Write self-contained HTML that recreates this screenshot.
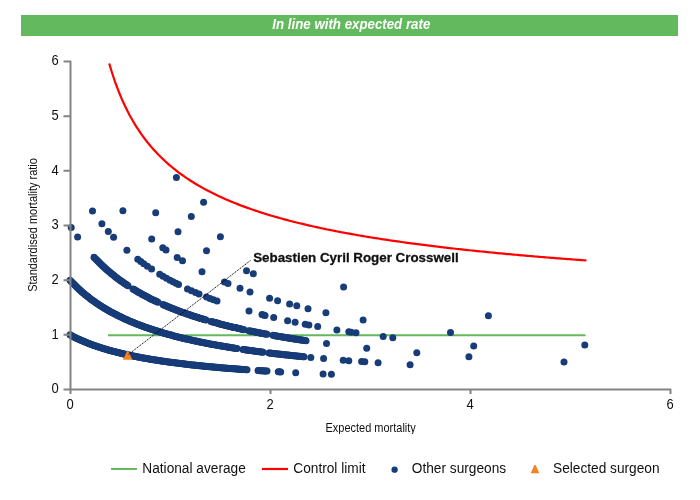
<!DOCTYPE html>
<html><head><meta charset="utf-8"><style>
html,body{margin:0;padding:0;background:#fff;}
body{width:700px;height:500px;position:relative;overflow:hidden;}
</style></head><body>

<svg width="700" height="500" viewBox="0 0 700 500" style="position:absolute;left:0;top:0;will-change:transform">
<rect x="21" y="15" width="657" height="21" fill="#63ba5e"/>
<text transform="translate(351.3,29) scale(1,1.06)" text-anchor="middle" font-family="Liberation Sans, Arial, sans-serif" font-size="13.3" font-weight="bold" font-style="italic" fill="#fff">In line with expected rate</text>
<line x1="108" y1="335.2" x2="585.5" y2="335.2" stroke="#62b85b" stroke-width="2"/>
<polyline points="109.50,64.34 111.50,71.02 113.50,77.23 115.50,83.02 117.50,88.44 119.50,93.52 121.50,98.30 123.50,102.80 125.50,107.06 127.50,111.09 129.50,114.92 131.50,118.55 133.50,122.01 135.50,125.31 137.50,128.46 139.50,131.48 141.50,134.36 143.50,137.13 145.50,139.78 147.50,142.33 149.50,144.78 151.50,147.14 153.50,149.42 155.50,151.61 157.50,153.73 159.50,155.78 161.50,157.76 163.50,159.67 165.50,161.52 167.50,163.32 169.50,165.06 171.50,166.75 173.50,168.39 175.50,169.98 177.50,171.53 179.50,173.04 181.50,174.50 183.50,175.93 185.50,177.31 187.50,178.67 189.50,179.98 191.50,181.27 193.50,182.52 195.50,183.75 197.50,184.94 199.50,186.11 201.50,187.25 203.50,188.36 205.50,189.45 207.50,190.51 209.50,191.56 211.50,192.58 213.50,193.57 215.50,194.55 217.50,195.51 219.50,196.45 221.50,197.37 223.50,198.27 225.50,199.15 227.50,200.02 229.50,200.87 231.50,201.70 233.50,202.52 235.50,203.33 237.50,204.12 239.50,204.89 241.50,205.66 243.50,206.40 245.50,207.14 247.50,207.86 249.50,208.58 251.50,209.27 253.50,209.96 255.50,210.64 257.50,211.31 259.50,211.96 261.50,212.61 263.50,213.24 265.50,213.87 267.50,214.48 269.50,215.09 271.50,215.69 273.50,216.27 275.50,216.85 277.50,217.42 279.50,217.99 281.50,218.54 283.50,219.09 285.50,219.63 287.50,220.16 289.50,220.69 291.50,221.20 293.50,221.72 295.50,222.22 297.50,222.72 299.50,223.21 301.50,223.69 303.50,224.17 305.50,224.64 307.50,225.11 309.50,225.57 311.50,226.02 313.50,226.47 315.50,226.91 317.50,227.35 319.50,227.78 321.50,228.21 323.50,228.63 325.50,229.05 327.50,229.46 329.50,229.87 331.50,230.27 333.50,230.67 335.50,231.07 337.50,231.46 339.50,231.84 341.50,232.22 343.50,232.60 345.50,232.97 347.50,233.34 349.50,233.70 351.50,234.06 353.50,234.42 355.50,234.77 357.50,235.12 359.50,235.47 361.50,235.81 363.50,236.15 365.50,236.48 367.50,236.82 369.50,237.14 371.50,237.47 373.50,237.79 375.50,238.11 377.50,238.42 379.50,238.74 381.50,239.05 383.50,239.35 385.50,239.66 387.50,239.96 389.50,240.26 391.50,240.55 393.50,240.84 395.50,241.13 397.50,241.42 399.50,241.70 401.50,241.99 403.50,242.26 405.50,242.54 407.50,242.82 409.50,243.09 411.50,243.36 413.50,243.62 415.50,243.89 417.50,244.15 419.50,244.41 421.50,244.67 423.50,244.93 425.50,245.18 427.50,245.43 429.50,245.68 431.50,245.93 433.50,246.17 435.50,246.42 437.50,246.66 439.50,246.90 441.50,247.13 443.50,247.37 445.50,247.60 447.50,247.83 449.50,248.06 451.50,248.29 453.50,248.52 455.50,248.74 457.50,248.97 459.50,249.19 461.50,249.41 463.50,249.62 465.50,249.84 467.50,250.05 469.50,250.27 471.50,250.48 473.50,250.69 475.50,250.90 477.50,251.10 479.50,251.31 481.50,251.51 483.50,251.71 485.50,251.91 487.50,252.11 489.50,252.31 491.50,252.51 493.50,252.70 495.50,252.89 497.50,253.09 499.50,253.28 501.50,253.47 503.50,253.65 505.50,253.84 507.50,254.03 509.50,254.21 511.50,254.39 513.50,254.58 515.50,254.76 517.50,254.94 519.50,255.11 521.50,255.29 523.50,255.47 525.50,255.64 527.50,255.82 529.50,255.99 531.50,256.16 533.50,256.33 535.50,256.50 537.50,256.67 539.50,256.83 541.50,257.00 543.50,257.16 545.50,257.33 547.50,257.49 549.50,257.65 551.50,257.81 553.50,257.97 555.50,258.13 557.50,258.29 559.50,258.44 561.50,258.60 563.50,258.75 565.50,258.91 567.50,259.06 569.50,259.21 571.50,259.36 573.50,259.51 575.50,259.66 577.50,259.81 579.50,259.96 581.50,260.11 583.50,260.25 585.50,260.40 584.50,260.33" fill="none" stroke="#ff0000" stroke-width="2.2" stroke-linecap="round" stroke-linejoin="round"/>
<g fill="#173c78">
<circle cx="70.00" cy="334.83" r="3.5"/>
<circle cx="71.00" cy="335.37" r="3.5"/>
<circle cx="72.00" cy="335.90" r="3.5"/>
<circle cx="73.00" cy="336.43" r="3.5"/>
<circle cx="74.00" cy="336.94" r="3.5"/>
<circle cx="75.00" cy="337.44" r="3.5"/>
<circle cx="76.00" cy="337.93" r="3.5"/>
<circle cx="77.00" cy="338.41" r="3.5"/>
<circle cx="78.00" cy="338.88" r="3.5"/>
<circle cx="79.00" cy="339.35" r="3.5"/>
<circle cx="80.00" cy="339.80" r="3.5"/>
<circle cx="81.00" cy="340.25" r="3.5"/>
<circle cx="82.00" cy="340.69" r="3.5"/>
<circle cx="83.00" cy="341.12" r="3.5"/>
<circle cx="84.00" cy="341.55" r="3.5"/>
<circle cx="85.00" cy="341.96" r="3.5"/>
<circle cx="86.00" cy="342.37" r="3.5"/>
<circle cx="87.00" cy="342.78" r="3.5"/>
<circle cx="88.00" cy="343.17" r="3.5"/>
<circle cx="89.00" cy="343.56" r="3.5"/>
<circle cx="90.00" cy="343.94" r="3.5"/>
<circle cx="91.00" cy="344.32" r="3.5"/>
<circle cx="92.00" cy="344.69" r="3.5"/>
<circle cx="93.00" cy="345.06" r="3.5"/>
<circle cx="94.00" cy="345.41" r="3.5"/>
<circle cx="95.00" cy="345.77" r="3.5"/>
<circle cx="96.00" cy="346.11" r="3.5"/>
<circle cx="97.00" cy="346.46" r="3.5"/>
<circle cx="98.00" cy="346.79" r="3.5"/>
<circle cx="99.00" cy="347.12" r="3.5"/>
<circle cx="100.00" cy="347.45" r="3.5"/>
<circle cx="101.00" cy="347.77" r="3.5"/>
<circle cx="102.00" cy="348.09" r="3.5"/>
<circle cx="103.00" cy="348.40" r="3.5"/>
<circle cx="104.00" cy="348.70" r="3.5"/>
<circle cx="105.00" cy="349.01" r="3.5"/>
<circle cx="106.00" cy="349.30" r="3.5"/>
<circle cx="107.00" cy="349.60" r="3.5"/>
<circle cx="108.00" cy="349.89" r="3.5"/>
<circle cx="109.00" cy="350.17" r="3.5"/>
<circle cx="110.00" cy="350.45" r="3.5"/>
<circle cx="111.00" cy="350.73" r="3.5"/>
<circle cx="112.00" cy="351.00" r="3.5"/>
<circle cx="113.00" cy="351.27" r="3.5"/>
<circle cx="114.00" cy="351.54" r="3.5"/>
<circle cx="115.00" cy="351.80" r="3.5"/>
<circle cx="116.00" cy="352.06" r="3.5"/>
<circle cx="117.00" cy="352.31" r="3.5"/>
<circle cx="118.00" cy="352.56" r="3.5"/>
<circle cx="119.00" cy="352.81" r="3.5"/>
<circle cx="120.00" cy="353.06" r="3.5"/>
<circle cx="121.00" cy="353.30" r="3.5"/>
<circle cx="122.00" cy="353.53" r="3.5"/>
<circle cx="123.00" cy="353.77" r="3.5"/>
<circle cx="124.00" cy="354.00" r="3.5"/>
<circle cx="125.00" cy="354.23" r="3.5"/>
<circle cx="126.00" cy="354.46" r="3.5"/>
<circle cx="127.00" cy="354.68" r="3.5"/>
<circle cx="128.00" cy="354.90" r="3.5"/>
<circle cx="129.00" cy="355.12" r="3.5"/>
<circle cx="130.00" cy="355.33" r="3.5"/>
<circle cx="131.00" cy="355.55" r="3.5"/>
<circle cx="132.00" cy="355.75" r="3.5"/>
<circle cx="133.00" cy="355.96" r="3.5"/>
<circle cx="134.00" cy="356.17" r="3.5"/>
<circle cx="135.00" cy="356.37" r="3.5"/>
<circle cx="136.00" cy="356.57" r="3.5"/>
<circle cx="137.00" cy="356.77" r="3.5"/>
<circle cx="138.00" cy="356.96" r="3.5"/>
<circle cx="139.00" cy="357.15" r="3.5"/>
<circle cx="140.00" cy="357.34" r="3.5"/>
<circle cx="141.00" cy="357.53" r="3.5"/>
<circle cx="142.00" cy="357.72" r="3.5"/>
<circle cx="143.00" cy="357.90" r="3.5"/>
<circle cx="144.00" cy="358.08" r="3.5"/>
<circle cx="145.00" cy="358.26" r="3.5"/>
<circle cx="146.00" cy="358.44" r="3.5"/>
<circle cx="147.00" cy="358.61" r="3.5"/>
<circle cx="148.00" cy="358.79" r="3.5"/>
<circle cx="149.00" cy="358.96" r="3.5"/>
<circle cx="150.00" cy="359.13" r="3.5"/>
<circle cx="151.00" cy="359.30" r="3.5"/>
<circle cx="152.00" cy="359.46" r="3.5"/>
<circle cx="153.00" cy="359.63" r="3.5"/>
<circle cx="154.00" cy="359.79" r="3.5"/>
<circle cx="155.00" cy="359.95" r="3.5"/>
<circle cx="156.00" cy="360.11" r="3.5"/>
<circle cx="157.00" cy="360.27" r="3.5"/>
<circle cx="158.00" cy="360.42" r="3.5"/>
<circle cx="159.00" cy="360.58" r="3.5"/>
<circle cx="160.00" cy="360.73" r="3.5"/>
<circle cx="161.00" cy="360.88" r="3.5"/>
<circle cx="162.00" cy="361.03" r="3.5"/>
<circle cx="163.00" cy="361.18" r="3.5"/>
<circle cx="164.00" cy="361.32" r="3.5"/>
<circle cx="165.00" cy="361.47" r="3.5"/>
<circle cx="166.00" cy="361.61" r="3.5"/>
<circle cx="167.00" cy="361.75" r="3.5"/>
<circle cx="168.00" cy="361.89" r="3.5"/>
<circle cx="169.00" cy="362.03" r="3.5"/>
<circle cx="170.00" cy="362.17" r="3.5"/>
<circle cx="171.00" cy="362.30" r="3.5"/>
<circle cx="172.00" cy="362.44" r="3.5"/>
<circle cx="173.00" cy="362.57" r="3.5"/>
<circle cx="174.00" cy="362.70" r="3.5"/>
<circle cx="175.00" cy="362.83" r="3.5"/>
<circle cx="176.00" cy="362.96" r="3.5"/>
<circle cx="177.00" cy="363.09" r="3.5"/>
<circle cx="178.00" cy="363.22" r="3.5"/>
<circle cx="179.00" cy="363.34" r="3.5"/>
<circle cx="180.00" cy="363.47" r="3.5"/>
<circle cx="181.00" cy="363.59" r="3.5"/>
<circle cx="182.00" cy="363.71" r="3.5"/>
<circle cx="183.00" cy="363.83" r="3.5"/>
<circle cx="184.00" cy="363.95" r="3.5"/>
<circle cx="185.00" cy="364.07" r="3.5"/>
<circle cx="186.00" cy="364.19" r="3.5"/>
<circle cx="187.00" cy="364.31" r="3.5"/>
<circle cx="188.00" cy="364.42" r="3.5"/>
<circle cx="189.00" cy="364.54" r="3.5"/>
<circle cx="190.00" cy="364.65" r="3.5"/>
<circle cx="191.00" cy="364.76" r="3.5"/>
<circle cx="192.00" cy="364.88" r="3.5"/>
<circle cx="193.00" cy="364.99" r="3.5"/>
<circle cx="194.00" cy="365.10" r="3.5"/>
<circle cx="195.00" cy="365.20" r="3.5"/>
<circle cx="196.00" cy="365.31" r="3.5"/>
<circle cx="197.00" cy="365.42" r="3.5"/>
<circle cx="198.00" cy="365.52" r="3.5"/>
<circle cx="199.00" cy="365.63" r="3.5"/>
<circle cx="200.00" cy="365.73" r="3.5"/>
<circle cx="201.00" cy="365.83" r="3.5"/>
<circle cx="202.00" cy="365.94" r="3.5"/>
<circle cx="203.00" cy="366.04" r="3.5"/>
<circle cx="204.00" cy="366.14" r="3.5"/>
<circle cx="205.00" cy="366.24" r="3.5"/>
<circle cx="206.00" cy="366.34" r="3.5"/>
<circle cx="207.00" cy="366.43" r="3.5"/>
<circle cx="208.00" cy="366.53" r="3.5"/>
<circle cx="209.00" cy="366.63" r="3.5"/>
<circle cx="210.00" cy="366.72" r="3.5"/>
<circle cx="211.00" cy="366.82" r="3.5"/>
<circle cx="212.00" cy="366.91" r="3.5"/>
<circle cx="213.00" cy="367.00" r="3.5"/>
<circle cx="214.00" cy="367.10" r="3.5"/>
<circle cx="215.00" cy="367.19" r="3.5"/>
<circle cx="216.00" cy="367.28" r="3.5"/>
<circle cx="217.00" cy="367.37" r="3.5"/>
<circle cx="218.00" cy="367.46" r="3.5"/>
<circle cx="219.00" cy="367.55" r="3.5"/>
<circle cx="220.00" cy="367.63" r="3.5"/>
<circle cx="221.00" cy="367.72" r="3.5"/>
<circle cx="222.00" cy="367.81" r="3.5"/>
<circle cx="223.00" cy="367.89" r="3.5"/>
<circle cx="224.00" cy="367.98" r="3.5"/>
<circle cx="225.00" cy="368.06" r="3.5"/>
<circle cx="226.00" cy="368.15" r="3.5"/>
<circle cx="227.00" cy="368.23" r="3.5"/>
<circle cx="228.00" cy="368.31" r="3.5"/>
<circle cx="229.00" cy="368.39" r="3.5"/>
<circle cx="230.00" cy="368.47" r="3.5"/>
<circle cx="231.00" cy="368.55" r="3.5"/>
<circle cx="232.00" cy="368.63" r="3.5"/>
<circle cx="233.00" cy="368.71" r="3.5"/>
<circle cx="234.00" cy="368.79" r="3.5"/>
<circle cx="235.00" cy="368.87" r="3.5"/>
<circle cx="236.00" cy="368.95" r="3.5"/>
<circle cx="237.00" cy="369.03" r="3.5"/>
<circle cx="238.00" cy="369.10" r="3.5"/>
<circle cx="239.00" cy="369.18" r="3.5"/>
<circle cx="240.00" cy="369.25" r="3.5"/>
<circle cx="241.00" cy="369.33" r="3.5"/>
<circle cx="242.00" cy="369.40" r="3.5"/>
<circle cx="243.00" cy="369.48" r="3.5"/>
<circle cx="244.00" cy="369.55" r="3.5"/>
<circle cx="245.00" cy="369.62" r="3.5"/>
<circle cx="246.00" cy="369.69" r="3.5"/>
<circle cx="247.00" cy="369.76" r="3.5"/>
<circle cx="258.00" cy="370.52" r="3.5"/>
<circle cx="259.00" cy="370.58" r="3.5"/>
<circle cx="260.00" cy="370.65" r="3.5"/>
<circle cx="261.00" cy="370.71" r="3.5"/>
<circle cx="262.00" cy="370.78" r="3.5"/>
<circle cx="263.00" cy="370.84" r="3.5"/>
<circle cx="264.00" cy="370.91" r="3.5"/>
<circle cx="265.00" cy="370.97" r="3.5"/>
<circle cx="266.00" cy="371.03" r="3.5"/>
<circle cx="267.00" cy="371.09" r="3.5"/>
<circle cx="278.30" cy="371.77" r="3.5"/>
<circle cx="279.50" cy="371.84" r="3.5"/>
<circle cx="280.70" cy="371.91" r="3.5"/>
<circle cx="295.70" cy="372.72" r="3.5"/>
<circle cx="323.10" cy="374.02" r="3.5"/>
<circle cx="331.40" cy="374.37" r="3.5"/>
<circle cx="70.00" cy="280.17" r="3.5"/>
<circle cx="71.00" cy="281.25" r="3.5"/>
<circle cx="72.00" cy="282.31" r="3.5"/>
<circle cx="73.00" cy="283.35" r="3.5"/>
<circle cx="74.00" cy="284.37" r="3.5"/>
<circle cx="75.00" cy="285.37" r="3.5"/>
<circle cx="76.00" cy="286.35" r="3.5"/>
<circle cx="77.00" cy="287.32" r="3.5"/>
<circle cx="78.00" cy="288.26" r="3.5"/>
<circle cx="79.00" cy="289.19" r="3.5"/>
<circle cx="80.00" cy="290.11" r="3.5"/>
<circle cx="81.00" cy="291.00" r="3.5"/>
<circle cx="82.00" cy="291.88" r="3.5"/>
<circle cx="83.00" cy="292.74" r="3.5"/>
<circle cx="84.00" cy="293.59" r="3.5"/>
<circle cx="85.00" cy="294.43" r="3.5"/>
<circle cx="86.00" cy="295.25" r="3.5"/>
<circle cx="87.00" cy="296.05" r="3.5"/>
<circle cx="88.00" cy="296.84" r="3.5"/>
<circle cx="89.00" cy="297.62" r="3.5"/>
<circle cx="90.00" cy="298.39" r="3.5"/>
<circle cx="91.00" cy="299.14" r="3.5"/>
<circle cx="92.00" cy="299.88" r="3.5"/>
<circle cx="93.00" cy="300.61" r="3.5"/>
<circle cx="94.00" cy="301.33" r="3.5"/>
<circle cx="95.00" cy="302.03" r="3.5"/>
<circle cx="96.00" cy="302.73" r="3.5"/>
<circle cx="97.00" cy="303.41" r="3.5"/>
<circle cx="98.00" cy="304.08" r="3.5"/>
<circle cx="99.00" cy="304.74" r="3.5"/>
<circle cx="100.00" cy="305.40" r="3.5"/>
<circle cx="101.00" cy="306.04" r="3.5"/>
<circle cx="102.00" cy="306.67" r="3.5"/>
<circle cx="103.00" cy="307.29" r="3.5"/>
<circle cx="104.00" cy="307.91" r="3.5"/>
<circle cx="105.00" cy="308.51" r="3.5"/>
<circle cx="106.00" cy="309.11" r="3.5"/>
<circle cx="107.00" cy="309.69" r="3.5"/>
<circle cx="108.00" cy="310.27" r="3.5"/>
<circle cx="109.00" cy="310.84" r="3.5"/>
<circle cx="110.00" cy="311.40" r="3.5"/>
<circle cx="111.00" cy="311.96" r="3.5"/>
<circle cx="112.00" cy="312.50" r="3.5"/>
<circle cx="113.00" cy="313.04" r="3.5"/>
<circle cx="114.00" cy="313.57" r="3.5"/>
<circle cx="115.00" cy="314.10" r="3.5"/>
<circle cx="116.00" cy="314.61" r="3.5"/>
<circle cx="117.00" cy="315.12" r="3.5"/>
<circle cx="118.00" cy="315.63" r="3.5"/>
<circle cx="119.00" cy="316.12" r="3.5"/>
<circle cx="120.00" cy="316.61" r="3.5"/>
<circle cx="121.00" cy="317.09" r="3.5"/>
<circle cx="122.00" cy="317.57" r="3.5"/>
<circle cx="123.00" cy="318.04" r="3.5"/>
<circle cx="124.00" cy="318.50" r="3.5"/>
<circle cx="125.00" cy="318.96" r="3.5"/>
<circle cx="126.00" cy="319.41" r="3.5"/>
<circle cx="127.00" cy="319.86" r="3.5"/>
<circle cx="128.00" cy="320.30" r="3.5"/>
<circle cx="129.00" cy="320.74" r="3.5"/>
<circle cx="130.00" cy="321.17" r="3.5"/>
<circle cx="131.00" cy="321.59" r="3.5"/>
<circle cx="132.00" cy="322.01" r="3.5"/>
<circle cx="133.00" cy="322.42" r="3.5"/>
<circle cx="134.00" cy="322.83" r="3.5"/>
<circle cx="135.00" cy="323.24" r="3.5"/>
<circle cx="136.00" cy="323.64" r="3.5"/>
<circle cx="137.00" cy="324.03" r="3.5"/>
<circle cx="138.00" cy="324.42" r="3.5"/>
<circle cx="139.00" cy="324.81" r="3.5"/>
<circle cx="140.00" cy="325.19" r="3.5"/>
<circle cx="141.00" cy="325.56" r="3.5"/>
<circle cx="142.00" cy="325.93" r="3.5"/>
<circle cx="143.00" cy="326.30" r="3.5"/>
<circle cx="144.00" cy="326.66" r="3.5"/>
<circle cx="145.00" cy="327.02" r="3.5"/>
<circle cx="146.00" cy="327.38" r="3.5"/>
<circle cx="147.00" cy="327.73" r="3.5"/>
<circle cx="148.00" cy="328.08" r="3.5"/>
<circle cx="149.00" cy="328.42" r="3.5"/>
<circle cx="150.00" cy="328.76" r="3.5"/>
<circle cx="151.00" cy="329.09" r="3.5"/>
<circle cx="152.00" cy="329.43" r="3.5"/>
<circle cx="153.00" cy="329.75" r="3.5"/>
<circle cx="154.00" cy="330.08" r="3.5"/>
<circle cx="155.00" cy="330.40" r="3.5"/>
<circle cx="156.00" cy="330.72" r="3.5"/>
<circle cx="157.00" cy="331.03" r="3.5"/>
<circle cx="158.00" cy="331.34" r="3.5"/>
<circle cx="159.00" cy="331.65" r="3.5"/>
<circle cx="160.00" cy="331.96" r="3.5"/>
<circle cx="161.00" cy="332.26" r="3.5"/>
<circle cx="162.00" cy="332.56" r="3.5"/>
<circle cx="163.00" cy="332.85" r="3.5"/>
<circle cx="164.00" cy="333.14" r="3.5"/>
<circle cx="165.00" cy="333.43" r="3.5"/>
<circle cx="166.00" cy="333.72" r="3.5"/>
<circle cx="167.00" cy="334.00" r="3.5"/>
<circle cx="168.00" cy="334.28" r="3.5"/>
<circle cx="169.00" cy="334.56" r="3.5"/>
<circle cx="170.00" cy="334.83" r="3.5"/>
<circle cx="171.00" cy="335.10" r="3.5"/>
<circle cx="172.00" cy="335.37" r="3.5"/>
<circle cx="173.00" cy="335.64" r="3.5"/>
<circle cx="174.00" cy="335.90" r="3.5"/>
<circle cx="175.00" cy="336.17" r="3.5"/>
<circle cx="176.00" cy="336.43" r="3.5"/>
<circle cx="177.00" cy="336.68" r="3.5"/>
<circle cx="178.00" cy="336.94" r="3.5"/>
<circle cx="179.00" cy="337.19" r="3.5"/>
<circle cx="180.00" cy="337.44" r="3.5"/>
<circle cx="181.00" cy="337.68" r="3.5"/>
<circle cx="182.00" cy="337.93" r="3.5"/>
<circle cx="183.00" cy="338.17" r="3.5"/>
<circle cx="184.00" cy="338.41" r="3.5"/>
<circle cx="185.00" cy="338.65" r="3.5"/>
<circle cx="186.00" cy="338.88" r="3.5"/>
<circle cx="187.00" cy="339.12" r="3.5"/>
<circle cx="188.00" cy="339.35" r="3.5"/>
<circle cx="189.00" cy="339.58" r="3.5"/>
<circle cx="190.00" cy="339.80" r="3.5"/>
<circle cx="191.00" cy="340.03" r="3.5"/>
<circle cx="192.00" cy="340.25" r="3.5"/>
<circle cx="193.00" cy="340.47" r="3.5"/>
<circle cx="194.00" cy="340.69" r="3.5"/>
<circle cx="195.00" cy="340.91" r="3.5"/>
<circle cx="196.00" cy="341.12" r="3.5"/>
<circle cx="197.00" cy="341.34" r="3.5"/>
<circle cx="198.00" cy="341.55" r="3.5"/>
<circle cx="199.00" cy="341.76" r="3.5"/>
<circle cx="200.00" cy="341.96" r="3.5"/>
<circle cx="201.00" cy="342.17" r="3.5"/>
<circle cx="202.00" cy="342.37" r="3.5"/>
<circle cx="203.00" cy="342.58" r="3.5"/>
<circle cx="204.00" cy="342.78" r="3.5"/>
<circle cx="205.00" cy="342.97" r="3.5"/>
<circle cx="206.00" cy="343.17" r="3.5"/>
<circle cx="207.00" cy="343.37" r="3.5"/>
<circle cx="208.00" cy="343.56" r="3.5"/>
<circle cx="209.00" cy="343.75" r="3.5"/>
<circle cx="210.00" cy="343.94" r="3.5"/>
<circle cx="211.00" cy="344.13" r="3.5"/>
<circle cx="212.00" cy="344.32" r="3.5"/>
<circle cx="213.00" cy="344.51" r="3.5"/>
<circle cx="214.00" cy="344.69" r="3.5"/>
<circle cx="215.00" cy="344.87" r="3.5"/>
<circle cx="216.00" cy="345.06" r="3.5"/>
<circle cx="217.00" cy="345.24" r="3.5"/>
<circle cx="218.00" cy="345.41" r="3.5"/>
<circle cx="219.00" cy="345.59" r="3.5"/>
<circle cx="220.00" cy="345.77" r="3.5"/>
<circle cx="221.00" cy="345.94" r="3.5"/>
<circle cx="222.00" cy="346.11" r="3.5"/>
<circle cx="223.00" cy="346.28" r="3.5"/>
<circle cx="224.00" cy="346.46" r="3.5"/>
<circle cx="225.00" cy="346.62" r="3.5"/>
<circle cx="226.00" cy="346.79" r="3.5"/>
<circle cx="227.00" cy="346.96" r="3.5"/>
<circle cx="228.00" cy="347.12" r="3.5"/>
<circle cx="229.00" cy="347.29" r="3.5"/>
<circle cx="230.00" cy="347.45" r="3.5"/>
<circle cx="231.00" cy="347.61" r="3.5"/>
<circle cx="232.00" cy="347.77" r="3.5"/>
<circle cx="233.00" cy="347.93" r="3.5"/>
<circle cx="234.00" cy="348.09" r="3.5"/>
<circle cx="235.00" cy="348.24" r="3.5"/>
<circle cx="236.00" cy="348.40" r="3.5"/>
<circle cx="237.00" cy="348.55" r="3.5"/>
<circle cx="243.00" cy="349.45" r="3.5"/>
<circle cx="244.00" cy="349.60" r="3.5"/>
<circle cx="245.00" cy="349.74" r="3.5"/>
<circle cx="246.00" cy="349.89" r="3.5"/>
<circle cx="247.00" cy="350.03" r="3.5"/>
<circle cx="248.00" cy="350.17" r="3.5"/>
<circle cx="249.00" cy="350.31" r="3.5"/>
<circle cx="250.00" cy="350.45" r="3.5"/>
<circle cx="251.00" cy="350.59" r="3.5"/>
<circle cx="252.00" cy="350.73" r="3.5"/>
<circle cx="253.00" cy="350.87" r="3.5"/>
<circle cx="254.00" cy="351.00" r="3.5"/>
<circle cx="255.00" cy="351.14" r="3.5"/>
<circle cx="256.00" cy="351.27" r="3.5"/>
<circle cx="257.00" cy="351.40" r="3.5"/>
<circle cx="258.00" cy="351.54" r="3.5"/>
<circle cx="259.00" cy="351.67" r="3.5"/>
<circle cx="260.00" cy="351.80" r="3.5"/>
<circle cx="261.00" cy="351.93" r="3.5"/>
<circle cx="262.00" cy="352.06" r="3.5"/>
<circle cx="263.00" cy="352.18" r="3.5"/>
<circle cx="269.00" cy="352.93" r="3.5"/>
<circle cx="270.00" cy="353.06" r="3.5"/>
<circle cx="271.00" cy="353.18" r="3.5"/>
<circle cx="272.00" cy="353.30" r="3.5"/>
<circle cx="273.00" cy="353.42" r="3.5"/>
<circle cx="274.00" cy="353.53" r="3.5"/>
<circle cx="275.00" cy="353.65" r="3.5"/>
<circle cx="276.00" cy="353.77" r="3.5"/>
<circle cx="277.00" cy="353.89" r="3.5"/>
<circle cx="278.00" cy="354.00" r="3.5"/>
<circle cx="279.00" cy="354.12" r="3.5"/>
<circle cx="280.00" cy="354.23" r="3.5"/>
<circle cx="281.00" cy="354.34" r="3.5"/>
<circle cx="282.00" cy="354.46" r="3.5"/>
<circle cx="283.00" cy="354.57" r="3.5"/>
<circle cx="284.00" cy="354.68" r="3.5"/>
<circle cx="285.00" cy="354.79" r="3.5"/>
<circle cx="286.00" cy="354.90" r="3.5"/>
<circle cx="287.00" cy="355.01" r="3.5"/>
<circle cx="288.00" cy="355.12" r="3.5"/>
<circle cx="289.00" cy="355.23" r="3.5"/>
<circle cx="290.00" cy="355.33" r="3.5"/>
<circle cx="291.00" cy="355.44" r="3.5"/>
<circle cx="292.00" cy="355.55" r="3.5"/>
<circle cx="293.00" cy="355.65" r="3.5"/>
<circle cx="294.00" cy="355.75" r="3.5"/>
<circle cx="295.00" cy="355.86" r="3.5"/>
<circle cx="296.00" cy="355.96" r="3.5"/>
<circle cx="297.00" cy="356.06" r="3.5"/>
<circle cx="298.00" cy="356.17" r="3.5"/>
<circle cx="299.00" cy="356.27" r="3.5"/>
<circle cx="300.00" cy="356.37" r="3.5"/>
<circle cx="301.00" cy="356.47" r="3.5"/>
<circle cx="302.00" cy="356.57" r="3.5"/>
<circle cx="303.00" cy="356.67" r="3.5"/>
<circle cx="304.00" cy="356.77" r="3.5"/>
<circle cx="310.80" cy="357.42" r="3.5"/>
<circle cx="323.60" cy="358.58" r="3.5"/>
<circle cx="343.20" cy="360.20" r="3.5"/>
<circle cx="348.80" cy="360.64" r="3.5"/>
<circle cx="361.60" cy="361.58" r="3.5"/>
<circle cx="364.80" cy="361.81" r="3.5"/>
<circle cx="378.10" cy="362.71" r="3.5"/>
<circle cx="410.10" cy="364.66" r="3.5"/>
<circle cx="71.20" cy="227.44" r="3.5"/>
<circle cx="77.60" cy="237.08" r="3.5"/>
<circle cx="94.00" cy="257.24" r="3.5"/>
<circle cx="95.00" cy="258.30" r="3.5"/>
<circle cx="96.00" cy="259.34" r="3.5"/>
<circle cx="97.00" cy="260.37" r="3.5"/>
<circle cx="98.00" cy="261.37" r="3.5"/>
<circle cx="99.00" cy="262.37" r="3.5"/>
<circle cx="100.00" cy="263.35" r="3.5"/>
<circle cx="101.00" cy="264.31" r="3.5"/>
<circle cx="102.00" cy="265.26" r="3.5"/>
<circle cx="103.00" cy="266.19" r="3.5"/>
<circle cx="104.00" cy="267.11" r="3.5"/>
<circle cx="105.00" cy="268.02" r="3.5"/>
<circle cx="106.00" cy="268.91" r="3.5"/>
<circle cx="107.00" cy="269.79" r="3.5"/>
<circle cx="108.00" cy="270.66" r="3.5"/>
<circle cx="109.00" cy="271.51" r="3.5"/>
<circle cx="110.00" cy="272.36" r="3.5"/>
<circle cx="111.00" cy="273.19" r="3.5"/>
<circle cx="112.00" cy="274.01" r="3.5"/>
<circle cx="113.00" cy="274.81" r="3.5"/>
<circle cx="114.00" cy="275.61" r="3.5"/>
<circle cx="115.00" cy="276.40" r="3.5"/>
<circle cx="116.00" cy="277.17" r="3.5"/>
<circle cx="117.00" cy="277.93" r="3.5"/>
<circle cx="118.00" cy="278.69" r="3.5"/>
<circle cx="119.00" cy="279.43" r="3.5"/>
<circle cx="120.00" cy="280.17" r="3.5"/>
<circle cx="121.00" cy="280.89" r="3.5"/>
<circle cx="122.00" cy="281.60" r="3.5"/>
<circle cx="123.00" cy="282.31" r="3.5"/>
<circle cx="124.00" cy="283.01" r="3.5"/>
<circle cx="125.00" cy="283.69" r="3.5"/>
<circle cx="126.00" cy="284.37" r="3.5"/>
<circle cx="127.00" cy="285.04" r="3.5"/>
<circle cx="128.00" cy="285.70" r="3.5"/>
<circle cx="133.00" cy="288.89" r="3.5"/>
<circle cx="134.00" cy="289.50" r="3.5"/>
<circle cx="135.00" cy="290.11" r="3.5"/>
<circle cx="136.00" cy="290.70" r="3.5"/>
<circle cx="137.00" cy="291.30" r="3.5"/>
<circle cx="138.00" cy="291.88" r="3.5"/>
<circle cx="139.00" cy="292.46" r="3.5"/>
<circle cx="140.00" cy="293.03" r="3.5"/>
<circle cx="141.00" cy="293.59" r="3.5"/>
<circle cx="142.00" cy="294.15" r="3.5"/>
<circle cx="143.00" cy="294.70" r="3.5"/>
<circle cx="144.00" cy="295.25" r="3.5"/>
<circle cx="145.00" cy="295.79" r="3.5"/>
<circle cx="146.00" cy="296.32" r="3.5"/>
<circle cx="147.00" cy="296.84" r="3.5"/>
<circle cx="148.00" cy="297.36" r="3.5"/>
<circle cx="149.00" cy="297.88" r="3.5"/>
<circle cx="150.00" cy="298.39" r="3.5"/>
<circle cx="151.00" cy="298.89" r="3.5"/>
<circle cx="152.00" cy="299.39" r="3.5"/>
<circle cx="153.00" cy="299.88" r="3.5"/>
<circle cx="154.00" cy="300.37" r="3.5"/>
<circle cx="155.00" cy="300.85" r="3.5"/>
<circle cx="156.00" cy="301.33" r="3.5"/>
<circle cx="157.00" cy="301.80" r="3.5"/>
<circle cx="158.00" cy="302.27" r="3.5"/>
<circle cx="163.00" cy="304.53" r="3.5"/>
<circle cx="164.00" cy="304.96" r="3.5"/>
<circle cx="165.00" cy="305.40" r="3.5"/>
<circle cx="166.00" cy="305.83" r="3.5"/>
<circle cx="167.00" cy="306.25" r="3.5"/>
<circle cx="168.00" cy="306.67" r="3.5"/>
<circle cx="169.00" cy="307.09" r="3.5"/>
<circle cx="170.00" cy="307.50" r="3.5"/>
<circle cx="171.00" cy="307.91" r="3.5"/>
<circle cx="172.00" cy="308.31" r="3.5"/>
<circle cx="173.00" cy="308.71" r="3.5"/>
<circle cx="174.00" cy="309.11" r="3.5"/>
<circle cx="175.00" cy="309.50" r="3.5"/>
<circle cx="176.00" cy="309.89" r="3.5"/>
<circle cx="177.00" cy="310.27" r="3.5"/>
<circle cx="178.00" cy="310.65" r="3.5"/>
<circle cx="179.00" cy="311.03" r="3.5"/>
<circle cx="180.00" cy="311.40" r="3.5"/>
<circle cx="181.00" cy="311.77" r="3.5"/>
<circle cx="182.00" cy="312.14" r="3.5"/>
<circle cx="183.00" cy="312.50" r="3.5"/>
<circle cx="184.00" cy="312.86" r="3.5"/>
<circle cx="185.00" cy="313.22" r="3.5"/>
<circle cx="186.00" cy="313.57" r="3.5"/>
<circle cx="187.00" cy="313.92" r="3.5"/>
<circle cx="188.00" cy="314.27" r="3.5"/>
<circle cx="189.00" cy="314.61" r="3.5"/>
<circle cx="190.00" cy="314.95" r="3.5"/>
<circle cx="191.00" cy="315.29" r="3.5"/>
<circle cx="192.00" cy="315.63" r="3.5"/>
<circle cx="193.00" cy="315.96" r="3.5"/>
<circle cx="194.00" cy="316.29" r="3.5"/>
<circle cx="195.00" cy="316.61" r="3.5"/>
<circle cx="196.00" cy="316.93" r="3.5"/>
<circle cx="197.00" cy="317.25" r="3.5"/>
<circle cx="198.00" cy="317.57" r="3.5"/>
<circle cx="199.00" cy="317.88" r="3.5"/>
<circle cx="200.00" cy="318.20" r="3.5"/>
<circle cx="201.00" cy="318.50" r="3.5"/>
<circle cx="202.00" cy="318.81" r="3.5"/>
<circle cx="203.00" cy="319.11" r="3.5"/>
<circle cx="204.00" cy="319.41" r="3.5"/>
<circle cx="205.00" cy="319.71" r="3.5"/>
<circle cx="206.00" cy="320.01" r="3.5"/>
<circle cx="211.00" cy="321.45" r="3.5"/>
<circle cx="212.00" cy="321.73" r="3.5"/>
<circle cx="213.00" cy="322.01" r="3.5"/>
<circle cx="214.00" cy="322.29" r="3.5"/>
<circle cx="215.00" cy="322.56" r="3.5"/>
<circle cx="216.00" cy="322.83" r="3.5"/>
<circle cx="217.00" cy="323.10" r="3.5"/>
<circle cx="218.00" cy="323.37" r="3.5"/>
<circle cx="219.00" cy="323.64" r="3.5"/>
<circle cx="220.00" cy="323.90" r="3.5"/>
<circle cx="221.00" cy="324.16" r="3.5"/>
<circle cx="222.00" cy="324.42" r="3.5"/>
<circle cx="223.00" cy="324.68" r="3.5"/>
<circle cx="224.00" cy="324.93" r="3.5"/>
<circle cx="225.00" cy="325.19" r="3.5"/>
<circle cx="226.00" cy="325.44" r="3.5"/>
<circle cx="227.00" cy="325.69" r="3.5"/>
<circle cx="228.00" cy="325.93" r="3.5"/>
<circle cx="229.00" cy="326.18" r="3.5"/>
<circle cx="230.00" cy="326.42" r="3.5"/>
<circle cx="231.00" cy="326.66" r="3.5"/>
<circle cx="232.00" cy="326.90" r="3.5"/>
<circle cx="233.00" cy="327.14" r="3.5"/>
<circle cx="234.00" cy="327.38" r="3.5"/>
<circle cx="235.00" cy="327.61" r="3.5"/>
<circle cx="236.00" cy="327.85" r="3.5"/>
<circle cx="237.00" cy="328.08" r="3.5"/>
<circle cx="238.00" cy="328.31" r="3.5"/>
<circle cx="239.00" cy="328.53" r="3.5"/>
<circle cx="240.00" cy="328.76" r="3.5"/>
<circle cx="241.00" cy="328.98" r="3.5"/>
<circle cx="242.00" cy="329.21" r="3.5"/>
<circle cx="243.00" cy="329.43" r="3.5"/>
<circle cx="244.00" cy="329.65" r="3.5"/>
<circle cx="249.00" cy="330.72" r="3.5"/>
<circle cx="250.00" cy="330.93" r="3.5"/>
<circle cx="251.00" cy="331.14" r="3.5"/>
<circle cx="252.00" cy="331.34" r="3.5"/>
<circle cx="253.00" cy="331.55" r="3.5"/>
<circle cx="254.00" cy="331.75" r="3.5"/>
<circle cx="255.00" cy="331.96" r="3.5"/>
<circle cx="256.00" cy="332.16" r="3.5"/>
<circle cx="257.00" cy="332.36" r="3.5"/>
<circle cx="258.00" cy="332.56" r="3.5"/>
<circle cx="259.00" cy="332.75" r="3.5"/>
<circle cx="260.00" cy="332.95" r="3.5"/>
<circle cx="261.00" cy="333.14" r="3.5"/>
<circle cx="262.00" cy="333.34" r="3.5"/>
<circle cx="263.00" cy="333.53" r="3.5"/>
<circle cx="264.00" cy="333.72" r="3.5"/>
<circle cx="265.00" cy="333.91" r="3.5"/>
<circle cx="266.00" cy="334.09" r="3.5"/>
<circle cx="267.00" cy="334.28" r="3.5"/>
<circle cx="273.00" cy="335.37" r="3.5"/>
<circle cx="274.00" cy="335.55" r="3.5"/>
<circle cx="275.00" cy="335.73" r="3.5"/>
<circle cx="276.00" cy="335.90" r="3.5"/>
<circle cx="277.00" cy="336.08" r="3.5"/>
<circle cx="278.00" cy="336.25" r="3.5"/>
<circle cx="279.00" cy="336.43" r="3.5"/>
<circle cx="280.00" cy="336.60" r="3.5"/>
<circle cx="281.00" cy="336.77" r="3.5"/>
<circle cx="282.00" cy="336.94" r="3.5"/>
<circle cx="283.00" cy="337.10" r="3.5"/>
<circle cx="284.00" cy="337.27" r="3.5"/>
<circle cx="285.00" cy="337.44" r="3.5"/>
<circle cx="286.00" cy="337.60" r="3.5"/>
<circle cx="287.00" cy="337.76" r="3.5"/>
<circle cx="288.00" cy="337.93" r="3.5"/>
<circle cx="289.00" cy="338.09" r="3.5"/>
<circle cx="290.00" cy="338.25" r="3.5"/>
<circle cx="291.00" cy="338.41" r="3.5"/>
<circle cx="292.00" cy="338.57" r="3.5"/>
<circle cx="293.00" cy="338.73" r="3.5"/>
<circle cx="294.00" cy="338.88" r="3.5"/>
<circle cx="295.00" cy="339.04" r="3.5"/>
<circle cx="296.00" cy="339.19" r="3.5"/>
<circle cx="297.00" cy="339.35" r="3.5"/>
<circle cx="298.00" cy="339.50" r="3.5"/>
<circle cx="299.00" cy="339.65" r="3.5"/>
<circle cx="300.00" cy="339.80" r="3.5"/>
<circle cx="301.00" cy="339.95" r="3.5"/>
<circle cx="302.00" cy="340.10" r="3.5"/>
<circle cx="303.00" cy="340.25" r="3.5"/>
<circle cx="304.00" cy="340.40" r="3.5"/>
<circle cx="305.00" cy="340.54" r="3.5"/>
<circle cx="306.00" cy="340.69" r="3.5"/>
<circle cx="326.50" cy="343.50" r="3.5"/>
<circle cx="366.70" cy="348.16" r="3.5"/>
<circle cx="416.80" cy="352.79" r="3.5"/>
<circle cx="468.90" cy="356.63" r="3.5"/>
<circle cx="564.00" cy="361.89" r="3.5"/>
<circle cx="92.50" cy="211.00" r="3.5"/>
<circle cx="101.90" cy="223.72" r="3.5"/>
<circle cx="108.30" cy="231.39" r="3.5"/>
<circle cx="113.60" cy="237.22" r="3.5"/>
<circle cx="126.90" cy="250.13" r="3.5"/>
<circle cx="137.80" cy="259.19" r="3.5"/>
<circle cx="140.80" cy="261.47" r="3.5"/>
<circle cx="143.80" cy="263.68" r="3.5"/>
<circle cx="147.40" cy="266.24" r="3.5"/>
<circle cx="151.60" cy="269.09" r="3.5"/>
<circle cx="159.70" cy="274.23" r="3.5"/>
<circle cx="163.00" cy="276.20" r="3.5"/>
<circle cx="166.50" cy="278.22" r="3.5"/>
<circle cx="170.00" cy="280.17" r="3.5"/>
<circle cx="173.00" cy="281.78" r="3.5"/>
<circle cx="176.00" cy="283.35" r="3.5"/>
<circle cx="178.50" cy="284.62" r="3.5"/>
<circle cx="187.50" cy="288.96" r="3.5"/>
<circle cx="191.50" cy="290.78" r="3.5"/>
<circle cx="195.50" cy="292.53" r="3.5"/>
<circle cx="199.00" cy="294.01" r="3.5"/>
<circle cx="206.50" cy="297.04" r="3.5"/>
<circle cx="210.00" cy="298.39" r="3.5"/>
<circle cx="213.50" cy="299.70" r="3.5"/>
<circle cx="217.00" cy="300.97" r="3.5"/>
<circle cx="249.00" cy="311.12" r="3.5"/>
<circle cx="262.00" cy="314.61" r="3.5"/>
<circle cx="263.50" cy="315.00" r="3.5"/>
<circle cx="265.00" cy="315.38" r="3.5"/>
<circle cx="273.70" cy="317.50" r="3.5"/>
<circle cx="287.60" cy="320.65" r="3.5"/>
<circle cx="295.10" cy="322.24" r="3.5"/>
<circle cx="305.20" cy="324.26" r="3.5"/>
<circle cx="308.90" cy="324.98" r="3.5"/>
<circle cx="317.70" cy="326.61" r="3.5"/>
<circle cx="336.90" cy="329.90" r="3.5"/>
<circle cx="348.80" cy="331.77" r="3.5"/>
<circle cx="351.20" cy="332.14" r="3.5"/>
<circle cx="356.00" cy="332.85" r="3.5"/>
<circle cx="383.20" cy="336.58" r="3.5"/>
<circle cx="392.80" cy="337.78" r="3.5"/>
<circle cx="473.70" cy="346.09" r="3.5"/>
<circle cx="122.90" cy="210.73" r="3.5"/>
<circle cx="151.70" cy="239.07" r="3.5"/>
<circle cx="162.80" cy="247.73" r="3.5"/>
<circle cx="166.00" cy="250.04" r="3.5"/>
<circle cx="177.20" cy="257.58" r="3.5"/>
<circle cx="182.50" cy="260.87" r="3.5"/>
<circle cx="202.00" cy="271.68" r="3.5"/>
<circle cx="224.50" cy="282.10" r="3.5"/>
<circle cx="228.00" cy="283.56" r="3.5"/>
<circle cx="240.00" cy="288.26" r="3.5"/>
<circle cx="250.00" cy="291.88" r="3.5"/>
<circle cx="269.60" cy="298.27" r="3.5"/>
<circle cx="277.60" cy="300.64" r="3.5"/>
<circle cx="289.60" cy="303.98" r="3.5"/>
<circle cx="296.80" cy="305.86" r="3.5"/>
<circle cx="308.00" cy="308.63" r="3.5"/>
<circle cx="325.90" cy="312.70" r="3.5"/>
<circle cx="363.10" cy="319.97" r="3.5"/>
<circle cx="450.50" cy="332.61" r="3.5"/>
<circle cx="584.80" cy="345.04" r="3.5"/>
<circle cx="155.70" cy="212.87" r="3.5"/>
<circle cx="178.00" cy="231.81" r="3.5"/>
<circle cx="206.50" cy="250.81" r="3.5"/>
<circle cx="246.50" cy="270.87" r="3.5"/>
<circle cx="253.30" cy="273.72" r="3.5"/>
<circle cx="191.30" cy="216.58" r="3.5"/>
<circle cx="220.40" cy="236.68" r="3.5"/>
<circle cx="343.60" cy="287.07" r="3.5"/>
<circle cx="488.40" cy="315.68" r="3.5"/>
<circle cx="176.40" cy="177.61" r="3.5"/>
<circle cx="203.60" cy="202.28" r="3.5"/>
</g>
<path d="M 127.7 350 L 132.5 359.8 L 122.9 359.8 Z" fill="#f5821f"/>
<line x1="128.6" y1="354.3" x2="250.6" y2="260.4" stroke="#000" stroke-width="1" stroke-dasharray="1.2,0.9"/>
<g stroke="#838383" stroke-width="2" fill="none" stroke-linejoin="round">
<path d="M 63.5 61.5 H 70.5 V 394"/>
<path d="M 63.5 389.6 H 670.5 V 394"/>
<path d="M 63.5 116.17 H 70.5 M 63.5 170.83 H 70.5 M 63.5 225.5 H 70.5 M 63.5 280.17 H 70.5 M 63.5 334.83 H 70.5 M 270.5 389.5 V 394 M 470.5 389.5 V 394"/>
</g>
<g font-family="Liberation Sans, Arial, sans-serif" font-size="13" fill="#111" text-anchor="end">
<text transform="translate(58.8,393.20) scale(1,1.1)">0</text>
<text transform="translate(58.8,338.53) scale(1,1.1)">1</text>
<text transform="translate(58.8,283.87) scale(1,1.1)">2</text>
<text transform="translate(58.8,229.20) scale(1,1.1)">3</text>
<text transform="translate(58.8,174.53) scale(1,1.1)">4</text>
<text transform="translate(58.8,119.86) scale(1,1.1)">5</text>
<text transform="translate(58.8,65.20) scale(1,1.1)">6</text>
</g>
<g font-family="Liberation Sans, Arial, sans-serif" font-size="13" fill="#111" text-anchor="middle">
<text transform="translate(70.10,408.9) scale(1,1.1)">0</text>
<text transform="translate(270.10,408.9) scale(1,1.1)">2</text>
<text transform="translate(470.10,408.9) scale(1,1.1)">4</text>
<text transform="translate(670.10,408.9) scale(1,1.1)">6</text>
</g>
<text transform="translate(325.5,431.5) scale(1,1.1)" font-family="Liberation Sans, Arial, sans-serif" font-size="11" fill="#111">Expected mortality</text>
<text transform="translate(37,225) rotate(-90) scale(1,1.1)" text-anchor="middle" font-family="Liberation Sans, Arial, sans-serif" font-size="11" fill="#111">Standardised mortality ratio</text>
<text transform="translate(253.2,261.9)" font-family="Liberation Sans, Arial, sans-serif" font-size="13.35" font-weight="bold" fill="#111" stroke="#111" stroke-width="0.3">Sebastien Cyril Roger Crosswell</text>
<line x1="111" y1="469" x2="137" y2="469" stroke="#62b85b" stroke-width="2"/>
<line x1="262" y1="469" x2="288" y2="469" stroke="#ff0000" stroke-width="2.2"/>
<circle cx="394.6" cy="469.7" r="3.15" fill="#173c78"/>
<path d="M 534.4 465 L 535.6 465 L 539.3 473.3 L 530.7 473.3 Z" fill="#f5821f"/>
<g font-family="Liberation Sans, Arial, sans-serif" font-size="13.7" fill="#111">
<text transform="translate(142.3,472.9) scale(1,1.07)">National average</text>
<text transform="translate(293.3,472.9) scale(1,1.07)">Control limit</text>
<text transform="translate(411.8,472.9) scale(1,1.07)">Other surgeons</text>
<text transform="translate(553,472.9) scale(1,1.07)">Selected surgeon</text>
</g>
</svg>
</body></html>
